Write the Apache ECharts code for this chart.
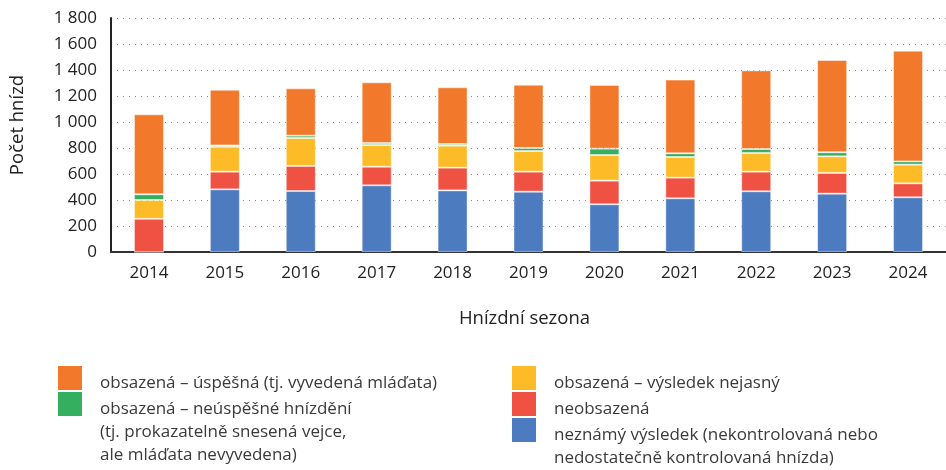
<!DOCTYPE html>
<html>
<head>
<meta charset="utf-8">
<script src="https://cdn.jsdelivr.net/npm/echarts@6/dist/echarts.min.js"></script>
<style>
  html, body { margin: 0; padding: 0; background: #fff; }
  #chart { width: 946px; height: 470px; }
</style>
</head>
<body>
<div id="chart"></div>
<script>
// sezony
const years = ['2014', '2015', '2016', '2017', '2018', '2019', '2020', '2021', '2022', '2023', '2024'];

// hodnoty (zdola nahoru)
const nezname    = [0, 482, 469, 513, 474, 464, 367, 413, 467, 449, 421];
const neobsazena = [255, 136, 193, 143, 175, 154, 182, 159, 151, 159, 107];
const nejasny    = [145, 192, 215, 167, 169, 159, 197, 159, 144, 128, 144];
const neuspesna  = [44, 10, 18, 15, 13, 23, 49, 28, 30, 31, 25];
const uspesna    = [615, 428, 364, 467, 436, 487, 490, 567, 605, 710, 852];

const yTicks = [0, 200, 400, 600, 800, 1000, 1200, 1400, 1600, 1800];

const seriesDefs = [
  { name: 'neznámý výsledek', data: nezname, color: '#4C7BC0' },
  { name: 'neobsazená', data: neobsazena, color: '#EF5142' },
  { name: 'obsazená – výsledek nejasný', data: nejasny, color: '#FDBB27' },
  { name: 'obsazená – neúspěšné hnízdění', data: neuspesna, color: '#34AE5F' },
  { name: 'obsazená – úspěšná', data: uspesna, color: '#F2782C' },
];

// legenda: dva sloupce, víceřádkové popisky
const legendLeft = [
  { color: '#F2782C', lines: ['obsazená – úspěšná (tj. vyvedená mláďata)'] },
  { color: '#34AE5F', lines: ['obsazená – neúspěšné hnízdění', '(tj. prokazatelně snesená vejce,', 'ale mláďata nevyvedena)'] },
];
const legendRight = [
  { color: '#FDBB27', lines: ['obsazená – výsledek nejasný'] },
  { color: '#EF5142', lines: ['neobsazená'] },
  { color: '#4C7BC0', lines: ['neznámý výsledek (nekontrolovaná nebo', 'nedostatečně kontrolovaná hnízda)'] },
];

const font = '"Open Sans", "Noto Sans", sans-serif';

function legendGraphic(items, x, y0) {
  const out = [];
  items.forEach((it, i) => {
    const top = y0 + i * 26;
    out.push({
      type: 'rect',
      left: x, top: top,
      shape: { width: 24, height: 24 },
      style: { fill: it.color },
    });
    out.push({
      type: 'text',
      left: x + 42, top: top + 6,
      style: {
        text: it.lines.join('\n'),
        font: '17px ' + font,
        lineHeight: 23,
        fill: '#3a3a3a',
      },
    });
  });
  return out;
}

const chart = echarts.init(document.getElementById('chart'), null, { renderer: 'canvas' });

const option = {
  animation: false,
  grid: { left: 111, top: 18, width: 843, bottom: 218 },
  xAxis: {
    type: 'category',
    data: years,
    name: 'Hnízdní sezona',
    nameLocation: 'middle',
    nameGap: 57,
    nameTextStyle: { fontSize: 18.5, color: '#222', fontFamily: font, padding: [0, 8, 0, 0] },
    axisLine: { lineStyle: { color: '#333', width: 2 } },
    axisTick: { show: false },
    axisLabel: { fontSize: 17, color: '#222', margin: 13, fontFamily: font },
  },
  yAxis: {
    type: 'value',
    min: 0,
    max: 1800,
    interval: 200,
    name: 'Počet hnízd',
    nameLocation: 'middle',
    nameGap: 84,
    nameTextStyle: { fontSize: 18.5, color: '#222', fontFamily: font, padding: [0, 0, 0, 20] },
    axisLine: { show: true, lineStyle: { color: '#222', width: 2 } },
    axisTick: { show: false },
    axisLabel: {
      fontSize: 17,
      color: '#222',
      margin: 14,
      fontFamily: font,
      customValues: yTicks,
      formatter: (v) => String(v).replace(/\B(?=(\d{3})+(?!\d))/g, ' '),
    },
    splitLine: { show: true, lineStyle: { type: [1, 5], color: '#888', width: 1 } },
  },
  series: seriesDefs.map((s) => ({
    name: s.name,
    type: 'bar',
    stack: 'total',
    data: s.data,
    barWidth: 30,
    itemStyle: { color: s.color, borderColor: 'rgba(255,255,255,0.45)', borderWidth: 1 },
  })),
  graphic: [
    ...legendGraphic(legendLeft, 58, 366),
    ...legendGraphic(legendRight, 512, 366),
  ],
};

chart.setOption(option);
</script>
</body>
</html>
